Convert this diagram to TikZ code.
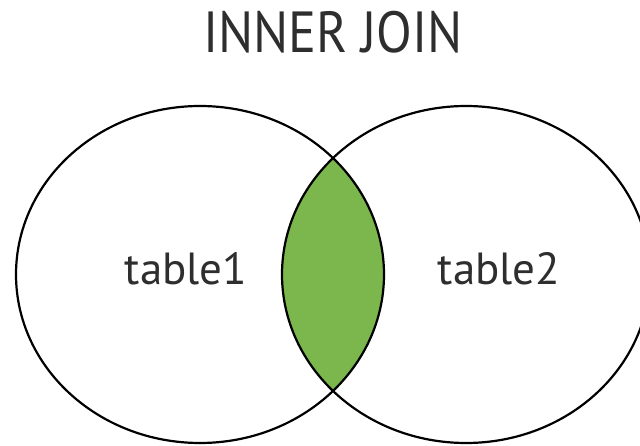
\documentclass[tikz,border=0pt]{standalone}
\usepackage{fontspec}
\setmainfont{PT Sans}
\definecolor{lensgreen}{HTML}{7BB74D}
\definecolor{txtgray}{HTML}{2E2E2E}
\tikzset{
  setline/.style={draw=black, line width=2.2pt},
  lbl/.style={anchor=base, inner sep=0pt, text=txtgray, font=\fontsize{45}{50}\selectfont},
  ttl/.style={anchor=base, inner sep=0pt, text=txtgray, font=\fontsize{58}{64}\selectfont}
}
\begin{document}
\begin{tikzpicture}[x=1pt,y=-1pt]
\clip (0,0) rectangle (640,446);
\fill[white] (0,0) rectangle (640,446);
\coordinate (cl) at (200,274.5);
\coordinate (cr) at (466,274.5);
\begin{scope}
  \clip (cl) ellipse [x radius=184pt, y radius=168.5pt];
  \fill[lensgreen] (cr) ellipse [x radius=184pt, y radius=168.5pt];
\end{scope}
\draw[setline] (cl) ellipse [x radius=184pt, y radius=168.5pt];
\draw[setline] (cr) ellipse [x radius=184pt, y radius=168.5pt];
\node[ttl, xscale=0.9] (title) at (333,53) {INNER JOIN};
\node[lbl] (t1) at (186,285) {table1};
\node[lbl] (t2) at (499,285) {table2};
\end{tikzpicture}
\end{document}
